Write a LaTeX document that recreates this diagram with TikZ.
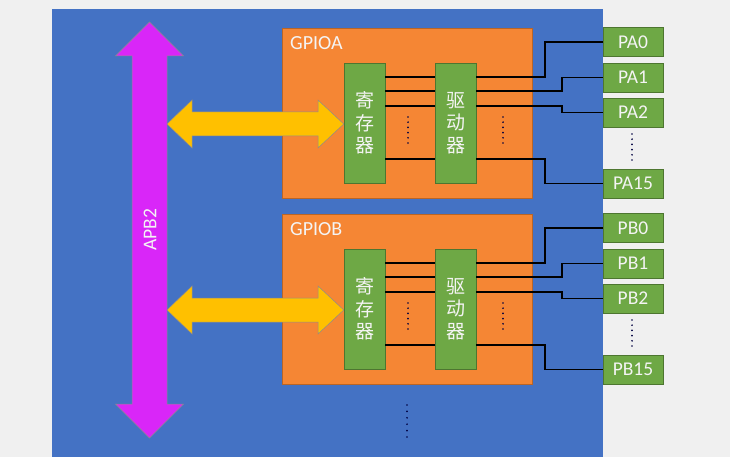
\documentclass[tikz,border=0pt]{standalone}
\usepackage{fontspec}
\setmainfont{Carlito}
\newfontfamily\cjk{Noto Sans CJK SC}
\usetikzlibrary{positioning}

\definecolor{pagegray}{HTML}{F0F0F0}
\definecolor{chipblue}{HTML}{4472C4}
\definecolor{gpioorange}{HTML}{F58634}
\definecolor{boxgreen}{HTML}{6EA845}
\definecolor{busmagenta}{HTML}{D926F8}
\definecolor{linkyellow}{HTML}{FFC000}
\definecolor{textwhite}{HTML}{F4F4F4}

\begin{document}
\begin{tikzpicture}[x=1pt, y=-1pt,
    block/.style={fill=boxgreen, draw=boxgreen!70!black, line width=0.5pt, inner sep=0pt, text=textwhite},
    regbox/.style={block, minimum width=41pt, minimum height=120pt, align=center,
        font=\cjk\fontsize{19}{22.5}\selectfont},
    pinbox/.style={block, minimum width=60pt, minimum height=29pt, font=\fontsize{19.5}{22}\selectfont},
    gpiobox/.style={fill=gpioorange, draw=gpioorange!75!black, line width=0.5pt, inner sep=0pt,
        anchor=north west, minimum width=250pt, minimum height=170pt},
    wire/.style={line width=1.7pt, black},
    vdots/.style={line width=1.9pt, line cap=round, dash pattern=on 0pt off 5.2pt, black!75!blue},
    fatarrow/.style={line width=0.5pt, draw=black!45, line join=miter}]
    \useasboundingbox (0,0) rectangle (730,457);
    \fill[pagegray] (0,0) rectangle (730,457);
    \fill[chipblue] (52,9) rectangle (603,457);
    % APB2 bus
    \draw[fatarrow, fill=busmagenta] (149.5,22) -- (183.5,56) -- (167,56) -- (167,404) -- (183.5,404)
        -- (149.5,438) -- (115.5,404) -- (132,404) -- (132,56) -- (115.5,56) -- cycle;
    \node[rotate=90, text=textwhite, font=\fontsize{19.5}{22}\selectfont] (apb) at (150,230) {APB2};
    \foreach \g/\dy in {A/0,B/186}{
        \node[gpiobox] (gpio\g) at (282,28+\dy) {};
        \node[anchor=north west, inner sep=0pt, text=textwhite, font=\fontsize{20}{24}\selectfont]
            (name\g) at (290,36+\dy) {GPIO\g};
        \node[regbox] (reg\g) at (364.5,123+\dy) {寄\\存\\器};
        \node[regbox] (drv\g) at (455.5,123+\dy) {驱\\动\\器};
        \foreach \n/\py in {0/42,1/77.5,2/112.5,15/183.5}
            \node[pinbox] (P\g\n) at (633,\py+\dy) {P\g\n};
        \foreach \wy/\bx/\n in {77/545/0,91/562/1,106/562/2,159/545/15}{
            \draw[wire] (reg\g.east |- 0,\wy+\dy) -- (drv\g.west |- 0,\wy+\dy);
            \draw[wire] (drv\g.east |- 0,\wy+\dy) -- (\bx,\wy+\dy) |- (P\g\n.west);
        }
        \draw[vdots] (408,117+\dy) -- (408,145+\dy);
        \draw[vdots] (503,117+\dy) -- (503,145+\dy);
        \draw[vdots] (632,134+\dy) -- (632,162+\dy);
        % link between bus and register
        \draw[fatarrow, fill=linkyellow] (167,124+\dy) -- (192,100+\dy) -- (192,112+\dy) -- (318,112+\dy)
            -- (318,100+\dy) -- (reg\g.west |- 0,124+\dy) -- (318,148+\dy) -- (318,136+\dy)
            -- (192,136+\dy) -- (192,148+\dy) -- cycle;
    }
    \draw[vdots, dash pattern=on 0pt off 6.4pt] (407,405) -- (407,437);
\end{tikzpicture}
\end{document}
